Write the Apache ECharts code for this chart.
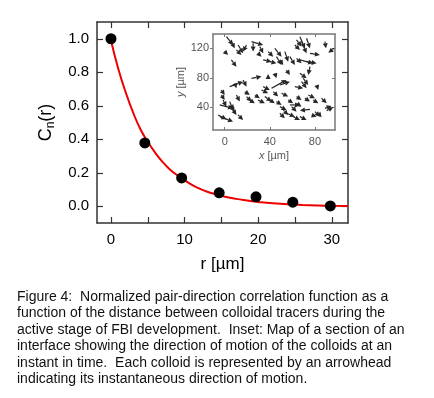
<!DOCTYPE html>
<html>
<head>
<meta charset="utf-8">
<script src="https://cdn.jsdelivr.net/npm/echarts@6/dist/echarts.min.js"></script>
<style>
  html, body { margin: 0; padding: 0; background: #fff; }
  #chart { width: 434px; height: 398px; }
</style>
</head>
<body>
<div id="chart"></div>
<script>
// measured points, r in um
const rPoints = [0, 4.6, 9.6, 14.7, 19.7, 24.7, 29.8];
const cPoints = [1.0, 0.378, 0.169, 0.08, 0.056, 0.024, 0.002];

// red fit curve
const rCurve = [0, 1, 2, 3, 4, 5, 6, 7, 8, 9, 10, 11, 12, 13, 14, 15, 16, 17, 18, 19, 20, 22, 24, 26, 28, 30, 32.2];
const cCurve = [0.99, 0.82, 0.68, 0.56, 0.46, 0.385, 0.32, 0.265, 0.22, 0.185, 0.155, 0.128, 0.106, 0.088, 0.074,
  0.062, 0.052, 0.044, 0.037, 0.031, 0.026, 0.018, 0.012, 0.008, 0.005, 0.003, 0.002];

const xTicks = [0, 5, 10, 15, 20, 25, 30];
const xLabels = [0, 10, 20, 30];
const yTicks = [0, 0.2, 0.4, 0.6, 0.8, 1.0];

// inset: arrows as [xTail, yTail, xHead, yHead] in um
const insetTicksX = [0, 40, 80];
const insetTicksY = [40, 80, 120];
const arrows = [
  [1.5, 135.8, 7.4, 124.5], [5.9, 129.0, 8.9, 120], [0, 115.5, 3, 111], [5.9, 104.2, 10.4, 95.1],
  [11.9, 124.5, 16.3, 113.2], [10.4, 117.7, 14.8, 111], [19.3, 124.5, 16.3, 115.5], [23.7, 129, 34.1, 124.5],
  [25.2, 126.8, 25.2, 115.5], [31.1, 122.3, 34.1, 113.2], [29.6, 113.2, 32.6, 108.7], [34.1, 104.2, 41.5, 101.9],
  [40, 101.9, 45.9, 99.7], [38.5, 115.5, 43, 108.7], [44.4, 120, 50.4, 108.7], [45.9, 108.7, 50.4, 97.4],
  [53.3, 115.5, 56.3, 101.9], [48.9, 104.2, 51.9, 97.4], [57.8, 108.7, 62.2, 97.4], [63.7, 131.3, 68.1, 122.3],
  [66.7, 135.8, 71.1, 120], [72.6, 133.6, 75.6, 120], [68.1, 129, 72.6, 113.2], [62.2, 124.5, 66.7, 117.7],
  [75.6, 113.2, 84.4, 111], [88.9, 129, 89.8, 120], [97, 120, 91.9, 114.1], [63.7, 106.4, 68.1, 99.7],
  [66.7, 104.2, 78.5, 99.7], [72.6, 101.9, 81.5, 99.7], [75.6, 95.1, 74.1, 83.8],
  [4.4, 68, 16.3, 74.8], [8.9, 72.5, 10.4, 65.8], [16.3, 77.1, 19.3, 68], [23.7, 79.3, 32.6, 81.6],
  [38.5, 79.3, 38.5, 85.2], [44.4, 86.1, 45.9, 79.3], [41.5, 65.8, 54.8, 77.1], [48.9, 70.3, 57.8, 74.8],
  [62.2, 68, 69.6, 65.8], [66.7, 86.1, 72.6, 79.3], [68.1, 74.8, 72.6, 65.8], [69.6, 79.3, 74.1, 70.3],
  [81.5, 70.3, 83, 63.5], [54.8, 90.6, 57.8, 83.8], [34.1, 68, 40, 63.5],
  [-3, 63.5, 0, 56.7], [-3, 56.7, 0, 49.9], [-1.5, 49.9, 1.5, 40.9], [-4.4, 43.2, 7.4, 38.6],
  [-4.4, 27.3, 7.4, 20.6], [-5.9, 29.6, 1.5, 23.7], [4.4, 47.7, 7.4, 36.4], [5.9, 40.9, 8.9, 34.1],
  [7.4, 36.4, 10.4, 29.6], [10.4, 56.7, 13.3, 47.7], [11.9, 29.6, 16.3, 22.8], [17.8, 61.2, 22.2, 56.7],
  [19.3, 54.5, 23.7, 47.7], [22.2, 49.9, 26.7, 45.4], [26.7, 56.7, 31.1, 52.2], [29.6, 49.9, 35.6, 45.4],
  [32.6, 63.5, 38.5, 59], [35.6, 54.5, 41.5, 47.7], [40, 49.9, 44.4, 45.4], [43, 61.2, 47.4, 54.5],
  [45.9, 47.7, 50.4, 43.2], [50.4, 59, 56.3, 54.5], [48.9, 40.9, 54.8, 36.4], [51.9, 36.4, 56.3, 29.6],
  [56.3, 49.9, 60.7, 45.4], [54.8, 31.9, 62.2, 27.3], [59.3, 40.9, 63.7, 34.1], [60.7, 27.3, 66.7, 22.8],
  [63.7, 45.4, 68.1, 40.9], [75.6, 37.3, 66.7, 35.5], [66.7, 27.3, 72.6, 22.8], [71.1, 52.2, 75.6, 47.7],
  [74.1, 56.7, 80, 52.2], [78.5, 49.9, 83, 45.4], [80, 34.1, 84.4, 27.3], [83, 31.9, 85.9, 26.4],
  [85.9, 52.2, 90.4, 45.4], [88.9, 38.6, 94.8, 41.8], [90.4, 35.5, 96.3, 40], [77, 29.6, 81.5, 27.3],
  [63.7, 54.5, 68.1, 49.9], [57.8, 43.2, 66.7, 43.2], [48.9, 31.9, 53.3, 25.1]
];

const caption = [
  'Figure 4:  Normalized pair-direction correlation function as a',
  'function of the distance between colloidal tracers during the',
  'active stage of FBI development.  Inset: Map of a section of an',
  'interface showing the direction of motion of the colloids at an',
  'instant in time.  Each colloid is represented by an arrowhead',
  'indicating its instantaneous direction of motion.'
];

const FONT = '"Liberation Sans", Arial, Helvetica, sans-serif';
let chart = echarts.init(document.getElementById('chart'), null, { renderer: 'canvas' });

let frameLine = { show: true, onZero: false, lineStyle: { color: '#333', width: 1.5 } };
let insetLine = { show: true, onZero: false, lineStyle: { color: '#777', width: 1.5 } };

function arrowItem(params, api) {
  let p1 = api.coord([api.value(0), api.value(1)]);
  let p2 = api.coord([api.value(2), api.value(3)]);
  let a = Math.atan2(p2[1] - p1[1], p2[0] - p1[0]);
  let hl = 5, hw = 2.5;
  let bx = p2[0] - hl * Math.cos(a), by = p2[1] - hl * Math.sin(a);
  return {
    type: 'group',
    children: [
      {
        type: 'line',
        shape: { x1: p1[0], y1: p1[1], x2: bx, y2: by },
        style: { stroke: '#262626', lineWidth: 1.2 }
      },
      {
        type: 'polygon',
        shape: { points: [
          p2,
          [bx + hw * Math.sin(a), by - hw * Math.cos(a)],
          [bx - hw * Math.sin(a), by + hw * Math.cos(a)]
        ] },
        style: { fill: '#262626' }
      }
    ]
  };
}

let option = {
  animation: false,
  textStyle: { fontFamily: FONT },
  grid: [
    { left: 97, top: 22, width: 251, height: 201, show: false },
    { left: 213, top: 34, width: 122, height: 96, show: true, backgroundColor: '#fff', borderWidth: 0, z: 5 }
  ],
  xAxis: [
    {
      type: 'value', gridIndex: 0, min: -1.9, max: 32.2,
      axisLine: frameLine,
      axisTick: { inside: true, length: 6, customValues: xTicks, lineStyle: { color: '#333', width: 1.2 } },
      axisLabel: { customValues: xLabels, fontSize: 15, color: '#000', margin: 9, fontFamily: FONT },
      splitLine: { show: false },
      name: 'r [\u00b5m]', nameLocation: 'middle', nameGap: 33,
      nameTextStyle: { fontSize: 17, color: '#000', fontFamily: FONT }
    },
    {
      type: 'value', gridIndex: 0, min: -1.9, max: 32.2, position: 'top',
      axisLine: frameLine,
      axisTick: { inside: true, length: 6, customValues: xTicks, lineStyle: { color: '#333', width: 1.2 } },
      axisLabel: { show: false }, splitLine: { show: false }
    },
    {
      type: 'value', gridIndex: 1, min: -10.4, max: 97.8,
      axisLine: insetLine,
      axisTick: { inside: true, length: 3, customValues: insetTicksX, lineStyle: { color: '#777' } },
      axisLabel: { customValues: insetTicksX, fontSize: 11, color: '#555', margin: 6, fontFamily: FONT },
      splitLine: { show: false },
      name: '{i|x} [\u00b5m]', nameLocation: 'middle', nameGap: 20,
      nameTextStyle: { fontSize: 11, color: '#555', fontFamily: FONT, rich: { i: { fontStyle: 'italic', fontSize: 11, color: '#555' } } },
      z: 6
    },
    {
      type: 'value', gridIndex: 1, min: -10.4, max: 97.8, position: 'top',
      axisLine: insetLine,
      axisTick: { inside: true, length: 3, customValues: insetTicksX, lineStyle: { color: '#777' } },
      axisLabel: { show: false }, splitLine: { show: false }, z: 6
    }
  ],
  yAxis: [
    {
      type: 'value', gridIndex: 0, min: -0.1, max: 1.1,
      axisLine: frameLine,
      axisTick: { inside: true, length: 6, customValues: yTicks, lineStyle: { color: '#333', width: 1.2 } },
      axisLabel: { customValues: yTicks, fontSize: 15, color: '#000', margin: 8, fontFamily: FONT,
        formatter: v => v.toFixed(1) },
      splitLine: { show: false },
      name: '{a|C}{s|n}{a|(r)}', nameLocation: 'middle', nameGap: 40,
      nameTextStyle: { fontFamily: FONT, color: '#000', rich: {
        a: { fontSize: 18, color: '#000', fontFamily: FONT },
        s: { fontSize: 12, color: '#000', fontFamily: FONT, padding: [9, 0, 0, 0] }
      } }
    },
    {
      type: 'value', gridIndex: 0, min: -0.1, max: 1.1, position: 'right',
      axisLine: frameLine,
      axisTick: { inside: true, length: 6, customValues: yTicks, lineStyle: { color: '#333', width: 1.2 } },
      axisLabel: { show: false }, splitLine: { show: false }
    },
    {
      type: 'value', gridIndex: 1, min: 9.2, max: 139.4,
      axisLine: insetLine,
      axisTick: { inside: false, length: 3, customValues: insetTicksY, lineStyle: { color: '#777' } },
      axisLabel: { customValues: insetTicksY, fontSize: 11, color: '#555', margin: 4, fontFamily: FONT },
      splitLine: { show: false },
      name: '{i|y} [\u00b5m]', nameLocation: 'middle', nameGap: 26,
      nameTextStyle: { fontSize: 11, color: '#555', fontFamily: FONT, rich: { i: { fontStyle: 'italic', fontSize: 11, color: '#555' } } },
      z: 6
    },
    {
      type: 'value', gridIndex: 1, min: 9.2, max: 139.4, position: 'right',
      axisLine: insetLine,
      axisTick: { inside: true, length: 3, customValues: insetTicksY, lineStyle: { color: '#777' } },
      axisLabel: { show: false }, splitLine: { show: false }, z: 6
    }
  ],
  series: [
    {
      name: 'fit', type: 'line', xAxisIndex: 0, yAxisIndex: 0,
      data: rCurve.map((r, i) => [r, cCurve[i]]),
      smooth: true, showSymbol: false,
      lineStyle: { color: '#ee0000', width: 2 }, z: 2
    },
    {
      name: 'data', type: 'scatter', xAxisIndex: 0, yAxisIndex: 0,
      data: rPoints.map((r, i) => [r, cPoints[i]]),
      symbolSize: 11, itemStyle: { color: '#000', opacity: 1 }, z: 3
    },
    {
      name: 'arrows', type: 'custom', xAxisIndex: 2, yAxisIndex: 2,
      data: arrows, encode: { x: [0, 2], y: [1, 3] },
      renderItem: arrowItem, clip: true, z: 7
    }
  ],
  graphic: [
    {
      type: 'text', left: 17, top: 289,
      style: { text: caption.join('\n'), font: '14px ' + FONT, lineHeight: 16.4, fill: '#111' }
    }
  ]
};

chart.setOption(option);
</script>
</body>
</html>
